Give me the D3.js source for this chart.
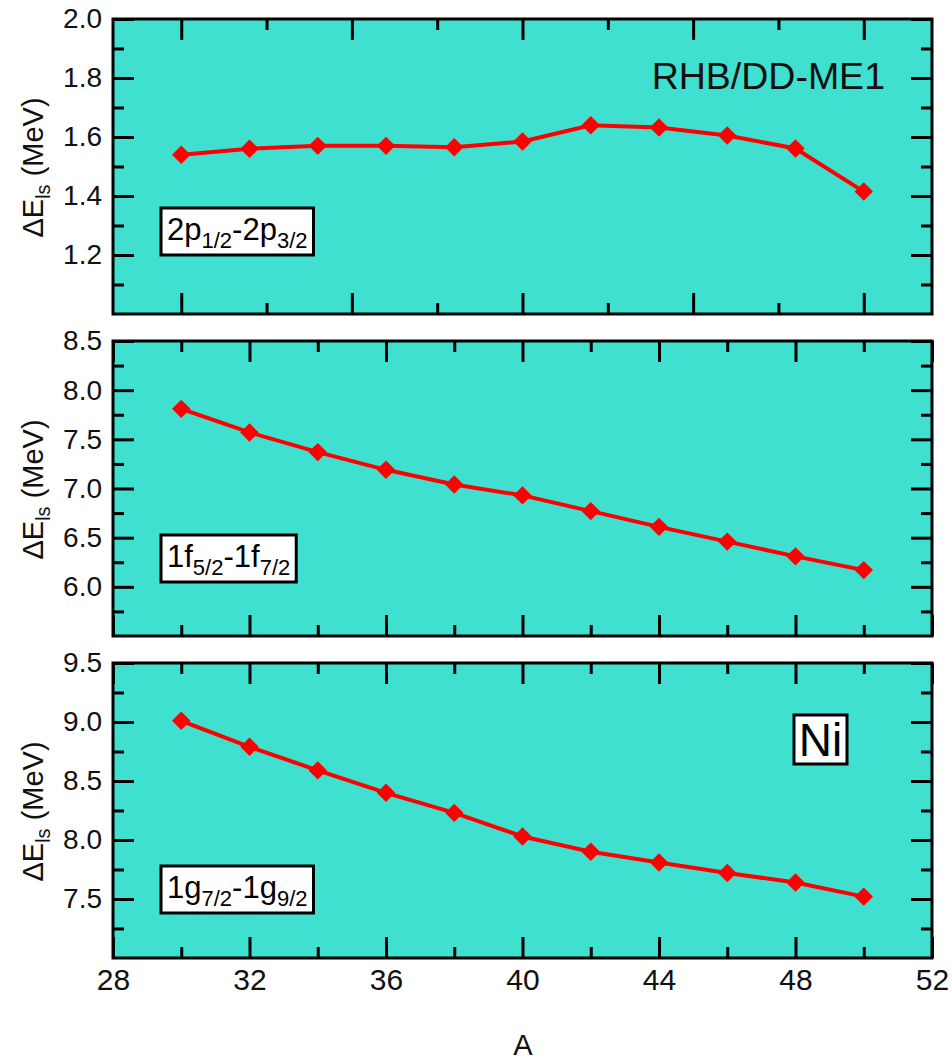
<!DOCTYPE html>
<html>
<head>
<meta charset="utf-8">
<script src="https://cdn.jsdelivr.net/npm/d3@7"></script>
<style>
	body { margin: 0; background: #fff; }
	text { font-family: "Liberation Sans", Arial, sans-serif; }
</style>
</head>
<body>
<svg id="svg" width="952" height="1061"></svg>
<script>
"use strict";

// mass number A
const massA = [30, 32, 34, 36, 38, 40, 42, 44, 46, 48, 50];

// spin-orbit splittings (MeV)
const splitP = [1.54, 1.56, 1.57, 1.57, 1.565, 1.585, 1.64, 1.632, 1.605, 1.561, 1.415];
const splitF = [7.81, 7.57, 7.37, 7.19, 7.04, 6.93, 6.77, 6.61, 6.46, 6.31, 6.17];
const splitG = [9.01, 8.79, 8.59, 8.40, 8.23, 8.03, 7.90, 7.81, 7.72, 7.64, 7.52];

// axes
const xDomain = [28, 52];
const yDomains = [[1.0, 2.0], [5.5, 8.5], [7.0, 9.5]];
const yMajor = [[1.2, 1.4, 1.6, 1.8, 2.0], [6.0, 6.5, 7.0, 7.5, 8.0, 8.5], [7.5, 8.0, 8.5, 9.0, 9.5]];
const yMinor = [[1.1, 1.3, 1.5, 1.7, 1.9], [5.75, 6.25, 6.75, 7.25, 7.75, 8.25], [7.25, 7.75, 8.25, 8.75, 9.25]];
const xMajor = [[30, 35, 40, 45, 50], [28, 32, 36, 40, 44, 48, 52], [28, 32, 36, 40, 44, 48, 52]];
const xMinor = [[32.5, 37.5, 42.5, 47.5], [30, 34, 38, 42, 46, 50], [30, 34, 38, 42, 46, 50]];

// orbital labels: [main, sub, main, sub]
const orbitLabels = [
	["2p", "1/2", "-2p", "3/2"],
	["1f", "5/2", "-1f", "7/2"],
	["1g", "7/2", "-1g", "9/2"],
];

const seriesList = [splitP, splitF, splitG];

const svg = d3.select("#svg");
const left = 113, right = 932;
const panelTops = [19, 341, 663];
const panelH = 295;

const x = d3.scaleLinear().domain(xDomain).range([left, right]);

seriesList.forEach((vals, i) => {
	const top = panelTops[i];
	const bottom = top + panelH;
	const y = d3.scaleLinear().domain(yDomains[i]).range([bottom, top]);
	const g = svg.append("g").attr("class", "panel");

	// background
	g.append("rect")
		.attr("x", left)
		.attr("y", top)
		.attr("width", right - left)
		.attr("height", panelH)
		.attr("fill", "#40E0D0");

	const majLen = 21, minLen = 11;
	const tickAxis = (axis, scale, ticks, len, tx, ty, labels, fs) => {
		const a = axis(scale)
			.tickValues(ticks)
			.tickSizeInner(-len)
			.tickSizeOuter(0)
			.tickPadding(11);
		if (!labels) a.tickFormat("");
		else a.tickFormat(labels);
		const ag = g.append("g")
			.attr("transform", `translate(${tx},${ty})`)
			.call(a);
		ag.select(".domain").remove();
		ag.attr("font-size", fs || 28).attr("font-family", null);
		ag.selectAll(".tick line").attr("stroke", "#000").attr("stroke-width", 3);
		ag.selectAll(".tick text").attr("fill", "#111");
		return ag;
	};

	// y axes left (labels) + right
	tickAxis(d3.axisLeft, y, yMajor[i], majLen, left, 0, d3.format(".1f"));
	tickAxis(d3.axisLeft, y, yMinor[i], minLen, left, 0, null);
	tickAxis(d3.axisRight, y, yMajor[i], majLen, right, 0, null);
	tickAxis(d3.axisRight, y, yMinor[i], minLen, right, 0, null);

	// x axes top + bottom
	tickAxis(d3.axisTop, x, xMajor[i], majLen, 0, top, null);
	tickAxis(d3.axisTop, x, xMinor[i], minLen, 0, top, null);
	tickAxis(d3.axisBottom, x, xMajor[i], majLen, 0, bottom,
		i === 2 ? d3.format("d") : null, 30);
	tickAxis(d3.axisBottom, x, xMinor[i], minLen, 0, bottom, null);

	// frame
	g.append("rect")
		.attr("x", left)
		.attr("y", top)
		.attr("width", right - left)
		.attr("height", panelH)
		.attr("fill", "none")
		.attr("stroke", "#000")
		.attr("stroke-width", 3);

	// line + diamonds
	const line = d3.line()
		.x((d, j) => x(massA[j]))
		.y((d) => y(d));
	g.append("path")
		.datum(vals)
		.attr("d", line)
		.attr("fill", "none")
		.attr("stroke", "#ff0000")
		.attr("stroke-width", 4);

	g.selectAll(".pt")
		.data(vals)
		.enter()
		.append("path")
		.attr("class", "pt")
		.attr("d", d3.symbol(d3.symbolSquare, 170))
		.attr("transform", (d, j) => `translate(${x(massA[j])},${y(d)}) rotate(45)`)
		.attr("fill", "#ff0000");

	// y label
	const yl = g.append("text")
		.attr("transform", `translate(43,${top + panelH / 2 + 1}) rotate(-90)`)
		.attr("text-anchor", "middle")
		.attr("font-size", 29)
		.attr("fill", "#111");
	yl.append("tspan").text("\u0394E");
	yl.append("tspan").text("ls").attr("font-size", 20).attr("dy", 7);
	yl.append("tspan").text(" (MeV)").attr("dy", -7);

	// orbit label box
	const boxY = [231, 558, 889][i];
	const box = g.append("rect");
	const lab = g.append("text")
		.attr("x", 167)
		.attr("y", boxY + 9)
		.attr("font-size", 31)
		.attr("fill", "#000");
	const parts = orbitLabels[i];
	lab.append("tspan").text(parts[0]);
	lab.append("tspan").text(parts[1]).attr("font-size", 22).attr("dy", 8);
	lab.append("tspan").text(parts[2]).attr("dy", -8);
	lab.append("tspan").text(parts[3]).attr("font-size", 22).attr("dy", 8);
	const bb = lab.node().getBBox();
	box.attr("x", bb.x - 6)
		.attr("y", boxY - 23)
		.attr("width", bb.width + 12)
		.attr("height", 47)
		.attr("fill", "#fff")
		.attr("stroke", "#000")
		.attr("stroke-width", 3);
});

// model label
svg.append("text")
	.attr("x", 885)
	.attr("y", 89)
	.attr("text-anchor", "end")
	.attr("font-size", 37.5)
	.attr("fill", "#111")
	.text("RHB/DD-ME1");

// Ni box
svg.append("rect")
	.attr("x", 794)
	.attr("y", 715)
	.attr("width", 53)
	.attr("height", 49)
	.attr("fill", "#fff")
	.attr("stroke", "#000")
	.attr("stroke-width", 3);
svg.append("text")
	.attr("x", 820.5)
	.attr("y", 756)
	.attr("text-anchor", "middle")
	.attr("font-size", 46)
	.attr("fill", "#000")
	.text("Ni");

// x label
svg.append("text")
	.attr("x", 523)
	.attr("y", 1055)
	.attr("text-anchor", "middle")
	.attr("font-size", 29)
	.attr("fill", "#111")
	.text("A");
</script>
</body>
</html>
